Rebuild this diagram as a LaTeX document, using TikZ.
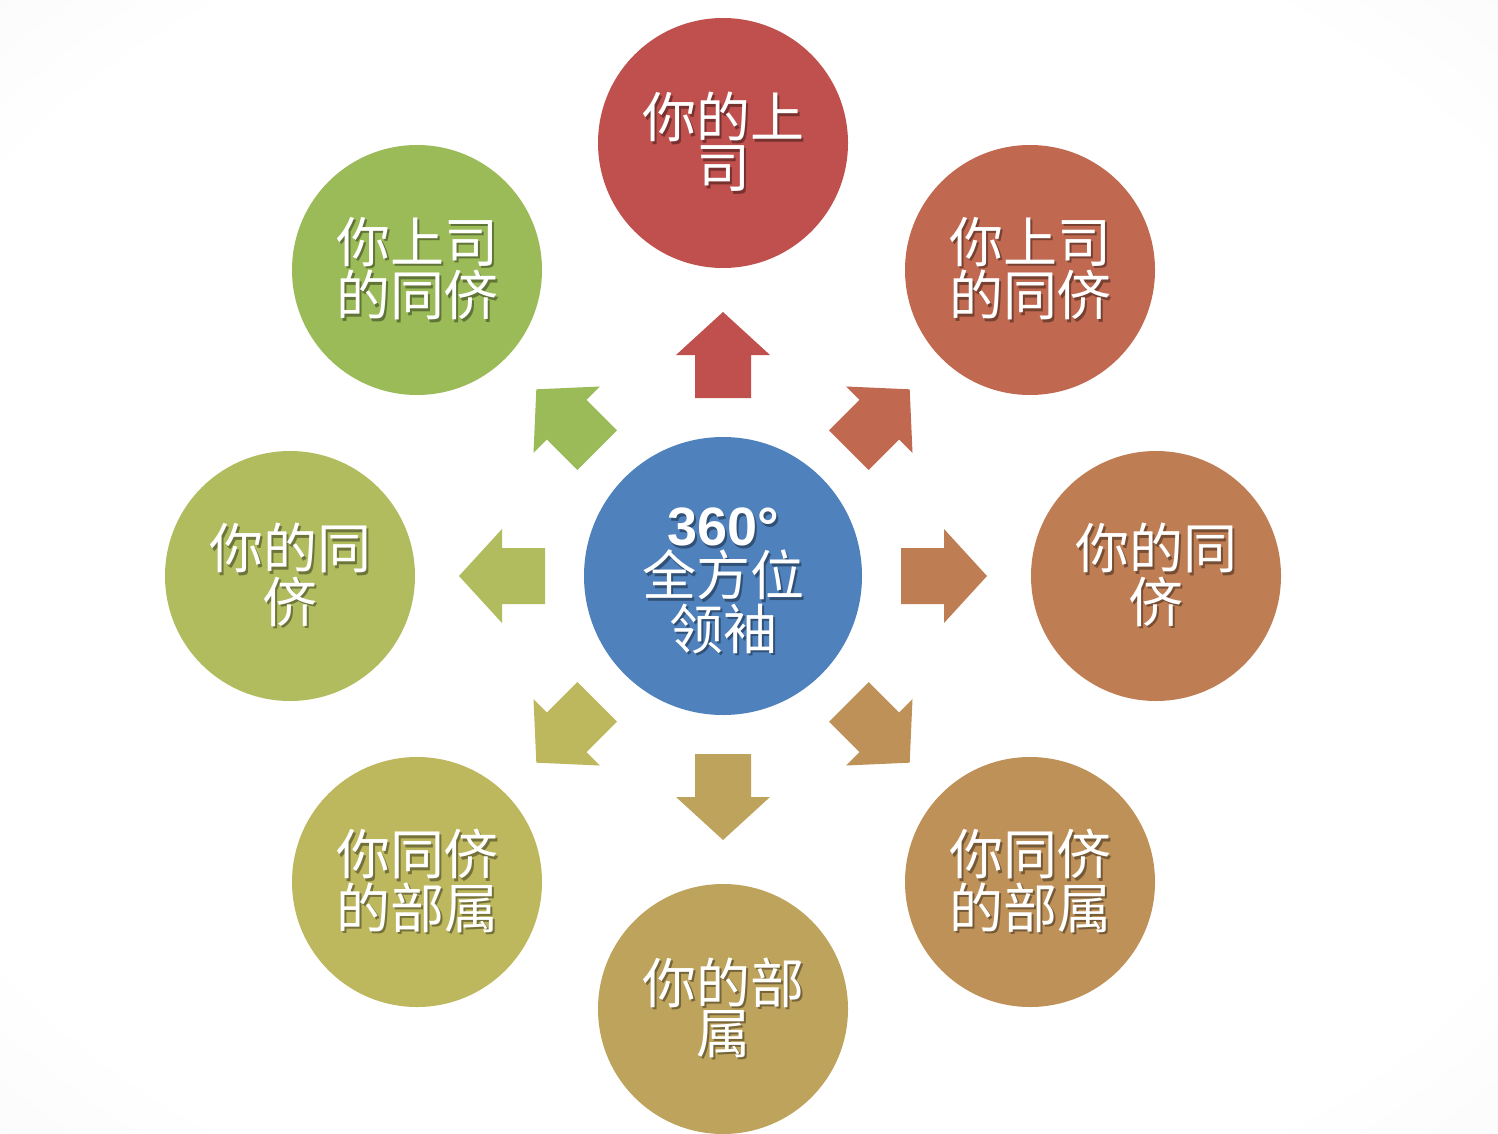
\documentclass[tikz,border=0pt]{standalone}
\usepackage{fontspec}
\newfontfamily\cjk{Noto Sans CJK SC}
\newfontfamily\latin{Liberation Sans}
\definecolor{cTop}{RGB}{192,80,77}
\definecolor{cUR}{RGB}{192,104,80}
\definecolor{cR}{RGB}{191,125,83}
\definecolor{cLR}{RGB}{190,145,88}
\definecolor{cB}{RGB}{190,163,92}
\definecolor{cLL}{RGB}{189,183,93}
\definecolor{cL}{RGB}{176,188,94}
\definecolor{cUL}{RGB}{155,187,89}
\definecolor{cCen}{RGB}{79,129,189}
\pgfdeclareradialshading{bgshade}{\pgfpoint{0bp}{0bp}}{color(0bp)=(white); color(30bp)=(white); color(71bp)=(black!11)}
\tikzset{
  bubble/.style={circle, minimum size=250pt, inner sep=0pt, draw=none},
  txt/.style={font=\cjk\fontsize{54}{50}\selectfont, text=white, align=center, inner sep=0pt},
}
% white text with a darker shadow behind it
\newcommand\gl[2]{\leavevmode\rlap{\kern2.5pt\raisebox{-2.5pt}{\textcolor{#1!62!black}{#2}}}#2}
\newcommand\bubble[5]{%
  \node[bubble, fill=#3] (#1) at (#2) {};
  \node[txt] (#1-t) at (#1.center) {\gl{#3}{#4}\\\gl{#3}{#5}};
}
\newcommand\dirarrow[2]{%
  \fill[#2, shift={(cen.center)}, rotate=#1] (178,-28) -- (221,-28) -- (221,-47) -- (264,0) -- (221,47) -- (221,28) -- (178,28) -- cycle;
}
\begin{document}
\begin{tikzpicture}[x=1pt,y=-1pt]
\path[shading=bgshade] (0,0) rectangle (1498,1134);
\useasboundingbox (0,0) rectangle (1498,1134);
\node[bubble, minimum size=278pt, fill=cCen] (cen) at (723,576) {};
\node[txt] (cen-t) at ([yshift=-6pt]cen.center) {\gl{cCen}{\latin\bfseries 360°}\\\gl{cCen}{全方位}\\\gl{cCen}{领袖}};
\bubble{up}{723,143}{cTop}{你的上}{司}
\bubble{ur}{1030,270}{cUR}{你上司}{的同侪}
\bubble{rt}{1156,576}{cR}{你的同}{侪}
\bubble{lr}{1030,882}{cLR}{你同侪}{的部属}
\bubble{dn}{723,1009}{cB}{你的部}{属}
\bubble{ll}{417,882}{cLL}{你同侪}{的部属}
\bubble{lt}{290,576}{cL}{你的同}{侪}
\bubble{ul}{417,270}{cUL}{你上司}{的同侪}
\dirarrow{90}{cTop}
\dirarrow{45}{cUR}
\dirarrow{0}{cR}
\dirarrow{-45}{cLR}
\dirarrow{-90}{cB}
\dirarrow{-135}{cLL}
\dirarrow{180}{cL}
\dirarrow{135}{cUL}
\end{tikzpicture}
\end{document}
